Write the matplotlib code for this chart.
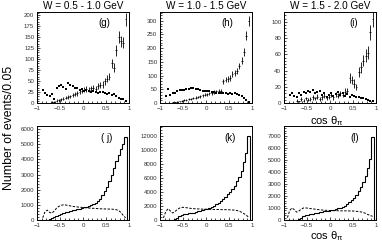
import numpy as np
import matplotlib
matplotlib.use("Agg")
import matplotlib.pyplot as plt
from matplotlib.ticker import MultipleLocator

nan = np.nan
# bin centres of cos(theta_pi), width 0.05, from -0.875 to 0.925
cos_top = [round(-0.875 + 0.05 * k, 3) for k in range(37)]

# Top row: crosses (with errors) and dots
g_cross = [nan, nan, nan, nan, 2, 3, 5, 6, 8, 10, 12, 14, 15, 18, 20, 22, 25, 28, 30, 32,
           30, 33, 35, 32, 38, 40, 42, 50, 55, 60, 90, 80, 120, 150, 140, 137, 190]
g_cross_err = [nan, nan, nan, nan, 2, 2, 3, 3, 3, 4, 4, 4, 4, 5, 5, 5, 5, 6, 6, 6,
               6, 6, 6, 6, 7, 7, 7, 8, 8, 8, 10, 10, 12, 13, 13, 13, 15]
g_dot = [30, 22, 18, 15, 20, 10, 35, 38, 40, 36, 32, 45, 40, 38, 35, 33, 30, 32, 28, 30,
         27, 25, 28, 25, 22, 25, 24, 23, 20, 22, 18, 20, 15, 12, 10, 8, 5]

h_cross = [nan, nan, nan, 2, 3, 5, 6, 8, 10, 12, 14, 16, 18, 20, 22, 25, 28, 30, 32, 35,
           38, 40, 42, 45, 45, 80, 85, 88, 92, 105, 110, 115, 135, 155, 185, 245, 300]
h_cross_err = [nan, nan, nan, 2, 2, 3, 3, 3, 4, 4, 4, 4, 5, 5, 5, 5, 6, 6, 6, 6,
               7, 7, 7, 7, 7, 9, 10, 10, 10, 11, 11, 11, 12, 13, 14, 16, 18]
h_dot = [25, 50, 30, 35, 38, 45, 46, 48, 47, 50, 52, 55, 53, 52, 50, 48, 45, 45, 42, 42,
         40, 40, 38, 38, 36, 35, 35, 34, 35, 34, 35, 33, 30, 25, 18, 10, 5]

i_cross = [nan, nan, nan, 3, 2, 5, 3, 6, 4, 5, 7, 6, 8, 5, 7, 9, 6, 8, 10, 7,
           11, 9, 12, 10, 14, 15, 31, 28, 24, 20, 38, 44, 52, 58, 62, 87, 103]
i_cross_err = [nan, nan, nan, 2, 1, 2, 2, 2, 2, 2, 3, 2, 3, 2, 3, 3, 2, 3, 3, 3,
               3, 3, 3, 3, 4, 4, 6, 5, 5, 4, 6, 7, 7, 8, 8, 9, 10]
i_dot = [10, 12, 9, 8, 12, 10, 14, 12, 15, 13, 16, 12, 14, 15, 10, 12, 8, 10, 12, 9,
         11, 13, 10, 12, 9, 11, 8, 10, 9, 7, 8, 6, 6, 5, 4, 3, 2]

# Bottom row: histogram bins (edges -1..1, 40 bins) and dashed curves
bin_edges = [round(-1 + 0.05 * k, 3) for k in range(41)]
j_hist = [0, 0, 0, 0, 0, 60, 130, 200, 280, 350, 410, 460, 510, 550, 590, 630, 670, 710, 750, 790,
          830, 870, 920, 980, 1050, 1100, 1250, 1400, 1650, 1900, 2200, 2600, 3000, 3400, 3900, 4300,
          4700, 5000, 5450, 0]
k_hist = [0, 0, 0, 0, 0, 50, 150, 300, 500, 650, 800, 900, 950, 1000, 1050, 1150, 1250, 1350, 1420, 1500,
          1600, 1750, 1900, 2050, 2250, 2450, 2700, 3000, 3300, 3650, 4000, 4400, 4900, 5500, 6200, 7000,
          8200, 9500, 12000, 0]
l_hist = [0, 0, 0, 0, 0, 30, 100, 200, 300, 380, 440, 490, 530, 570, 600, 640, 680, 710, 740, 770,
          810, 850, 900, 960, 1030, 1110, 1200, 1320, 1480, 1650, 1850, 2100, 2400, 2750, 3150, 3650,
          4300, 5100, 6900, 0]

cos_dash = [round(-0.925 + 0.05 * k, 3) for k in range(38)]
j_dash = [nan, 150, 550, 650, 500, 450, 600, 780, 900, 970, 1000, 990, 960, 930, 900, 880, 860, 850, 830,
          820, 800, 790, 780, 770, 760, 750, 740, 735, 730, 725, 720, 715, 700, 680, 620, 500, 300, 150]
k_dash = [300, 1200, 1600, 1300, 1000, 1200, 1500, 1700, 1800, 1800, 1750, 1700, 1650, 1620, 1600, 1580,
          1560, 1550, 1540, 1530, 1520, 1510, 1500, 1500, 1490, 1480, 1470, 1470, 1460, 1450, 1430, 1400,
          1350, 1250, 1100, 900, 700, 400]
l_dash = [200, 800, 1000, 850, 650, 750, 900, 1000, 1000, 980, 950, 920, 900, 870, 850, 830, 810, 800,
          790, 780, 780, 770, 770, 760, 760, 760, 760, 750, 750, 740, 720, 700, 670, 620, 550, 450, 380, 300]

titles = ["W = 0.5 - 1.0 GeV", "W = 1.0 - 1.5 GeV", "W = 1.5 - 2.0 GeV"]
top_labels = ["(g)", "(h)", "(i)"]
bot_labels = ["( j)", "(k)", "(l)"]
top_ylim = [207, 332, 112]
top_major = [25, 50, 20]
bot_ylim = [6200, 13400, 7800]
bot_major = [1000, 2000, 1000]

plt.rcParams["font.family"] = ["Liberation Sans", "DejaVu Sans"]
plt.rcParams["mathtext.fontset"] = "custom"
plt.rcParams["mathtext.rm"] = "Liberation Sans"
plt.rcParams["mathtext.it"] = "Liberation Sans"

W, H = 382, 244
fig = plt.figure(figsize=(W / 100, H / 100), dpi=100)
lefts = [37, 160, 284]
pw = 92

def style(ax, major, ymax):
    ax.set_xlim(-1, 1)
    ax.set_ylim(0, ymax)
    ax.xaxis.set_major_locator(MultipleLocator(0.5))
    ax.xaxis.set_minor_locator(MultipleLocator(0.1))
    ax.yaxis.set_major_locator(MultipleLocator(major))
    ax.yaxis.set_minor_locator(MultipleLocator(major / 5))
    ax.tick_params(which="both", direction="in", labelsize=4.4, colors="black",
                   labelcolor="#333333", width=0.5, pad=2)
    ax.tick_params(which="major", length=2.5)
    ax.tick_params(which="minor", length=1.3)
    ax.set_xticks([-1, -0.5, 0, 0.5, 1])
    ax.set_xticklabels(["\u22121", "\u22120.5", "0", "0.5", "1"])
    for s in ax.spines.values():
        s.set_linewidth(0.7)

top_data = [(g_cross, g_cross_err, g_dot), (h_cross, h_cross_err, h_dot), (i_cross, i_cross_err, i_dot)]
bot_data = [(j_hist, j_dash), (k_hist, k_dash), (l_hist, l_dash)]

for c in range(3):
    ax = fig.add_axes([lefts[c] / W, 1 - 103 / H, pw / W, 91 / H])
    cr, ce, dt = top_data[c]
    ax.errorbar(cos_top, cr, yerr=ce, xerr=0.02, fmt="none", ecolor="black",
                elinewidth=0.6, capsize=0)
    ax.plot(cos_top, dt, "s", ms=1.6, color="black", mew=0)
    style(ax, top_major[c], top_ylim[c])
    ax.text(0.8, 0.93, top_labels[c], transform=ax.transAxes, ha="right", va="top", fontsize=7)
    fig.text((lefts[c] + pw / 2) / W, 1 - 6 / H, titles[c], ha="center", va="center", fontsize=7.2)

    ax2 = fig.add_axes([lefts[c] / W, 1 - 220 / H, pw / W, 94 / H])
    hist, dash = bot_data[c]
    ax2.stairs(hist, bin_edges, color="black", linewidth=0.8)
    ax2.plot(cos_dash, dash, color="black", linestyle=(0, (2.5, 1.5)), linewidth=0.7)
    style(ax2, bot_major[c], bot_ylim[c])
    ax2.text(0.82, 0.93, bot_labels[c], transform=ax2.transAxes, ha="right", va="top", fontsize=7)

fig.text(327 / W, 1 - 121 / H, r"cos $\theta_\pi$", ha="center", va="center", fontsize=8)
fig.text(327 / W, 1 - 236 / H, r"cos $\theta_\pi$", ha="center", va="center", fontsize=8)
fig.text(9 / W, 1 - 128 / H, "Number of events/0.05", rotation=90, ha="center", va="center",
         fontsize=8.8)

fig.savefig("out.png", dpi=100)
